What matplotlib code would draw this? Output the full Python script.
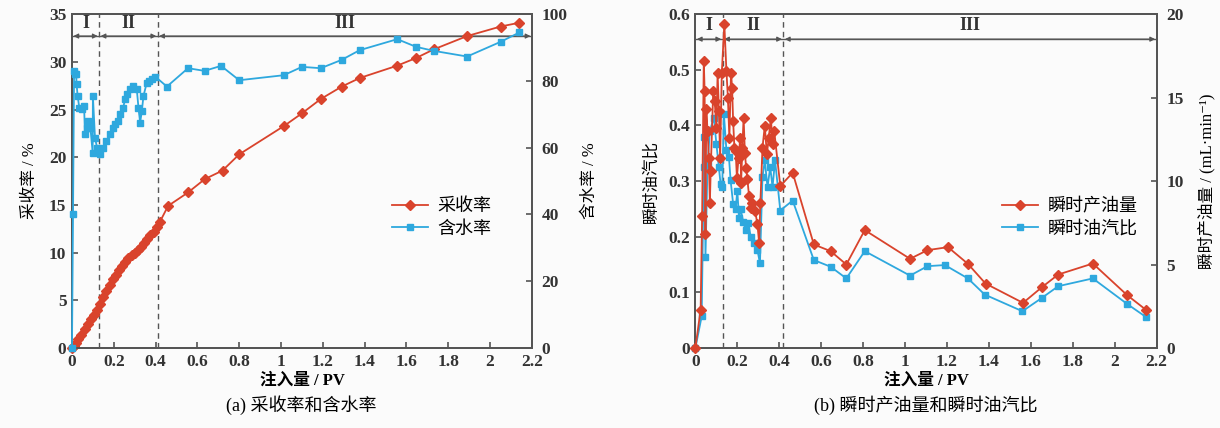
import numpy as np
import matplotlib.pyplot as plt
from matplotlib.ticker import FuncFormatter

plt.rcParams['font.family'] = ['Liberation Serif', 'Noto Sans CJK SC', 'DejaVu Serif']
plt.rcParams['axes.unicode_minus'] = False

RED = '#d9432c'
BLUE = '#2ea8de'
AXC = '#555555'

# (a) recovery (left axis, %) and water cut (right axis, %)
rec_x = [0, 0.01, 0.02, 0.03, 0.045, 0.06, 0.075, 0.09, 0.105, 0.12, 0.135, 0.15,
         0.165, 0.18, 0.195, 0.21, 0.225, 0.24, 0.255, 0.27, 0.285, 0.30, 0.315,
         0.33, 0.345, 0.36, 0.375, 0.39, 0.405, 0.42, 0.46, 0.555, 0.635, 0.72,
         0.80, 1.016, 1.10, 1.19, 1.29, 1.376, 1.556, 1.646, 1.73, 1.89, 2.05, 2.14]
rec_y = [0, 0.2, 0.5, 0.9, 1.4, 2.0, 2.5, 3.0, 3.5, 4.0, 4.6, 5.3,
         6.0, 6.6, 7.2, 7.7, 8.2, 8.6, 9.0, 9.4, 9.7, 10.0, 10.3,
         10.6, 11.0, 11.4, 11.8, 12.2, 12.7, 13.2, 14.9, 16.3, 17.7, 18.6,
         20.3, 23.3, 24.6, 26.1, 27.4, 28.3, 29.6, 30.4, 31.3, 32.7, 33.7, 34.1]

wc_x = [0, 0.005, 0.01, 0.015, 0.02, 0.022, 0.027, 0.035, 0.046, 0.058, 0.062, 0.07,
        0.077, 0.088, 0.099, 0.10, 0.11, 0.12, 0.134, 0.15, 0.165, 0.18, 0.195,
        0.206, 0.22, 0.23, 0.245, 0.254, 0.265, 0.278, 0.294, 0.31, 0.318, 0.326,
        0.334, 0.342, 0.358, 0.37, 0.382, 0.398, 0.454, 0.555, 0.634, 0.713, 0.80,
        1.013, 1.10, 1.19, 1.29, 1.376, 1.556, 1.646, 1.73, 1.89, 2.05, 2.14]
wc_y = [0, 40, 83, 82, 82, 79, 75.5, 72, 71.5, 72.4, 64, 66,
        68, 66, 58.5, 75.5, 63, 60, 58, 60, 62, 64, 66,
        67, 68, 70, 72, 74.5, 76, 77.5, 78.4, 77.5, 72, 67.5,
        70.9, 75.5, 79.5, 80, 80.5, 81.3, 78.3, 83.8, 83, 84.5, 80.2,
        81.7, 84.2, 83.8, 86.3, 89.2, 92.5, 90.2, 89, 87.3, 91.7, 94.5]

# (b) oil rate (right axis, mL/min) and oil-steam ratio (left axis)
oil_x = [0, 0.025, 0.032, 0.04, 0.044, 0.048, 0.052, 0.058, 0.064, 0.069, 0.073,
         0.085, 0.092, 0.10, 0.106, 0.112, 0.118, 0.126, 0.138, 0.148, 0.155,
         0.162, 0.17, 0.175, 0.18, 0.186, 0.192, 0.198, 0.206, 0.214, 0.218,
         0.224, 0.23, 0.236, 0.242, 0.248, 0.256, 0.264, 0.272, 0.285, 0.296,
         0.304, 0.31, 0.32, 0.331, 0.341, 0.35, 0.36, 0.368, 0.376, 0.405,
         0.464, 0.565, 0.645, 0.72, 0.808, 1.024, 1.107, 1.205, 1.30, 1.384,
         1.563, 1.653, 1.731, 1.896, 2.06, 2.152]
oil_y = [0, 2.3, 7.9, 17.2, 15.4, 6.8, 14.3, 13.0, 11.4, 8.7, 10.6,
         15.4, 14.8, 13.2, 16.5, 14.2, 11.4, 16.5, 19.4, 16.6, 15.0,
         12.6, 16.5, 15.6, 13.6, 12.0, 11.8, 10.2, 11.4, 12.6, 9.9,
         12.0, 13.8, 11.7, 10.8, 10.1, 9.1, 8.4, 8.7, 8.2, 7.4,
         6.3, 8.7, 12.0, 13.3, 11.6, 12.6, 13.8, 12.2, 13.0, 9.7,
         10.5, 6.2, 5.8, 5.0, 7.06, 5.34, 5.86, 6.04, 5.04, 3.86,
         2.70, 3.64, 4.40, 5.06, 3.16, 2.26]

osr_x = [0, 0.03, 0.04, 0.043, 0.048, 0.058, 0.069, 0.088, 0.10, 0.112, 0.12,
         0.128, 0.136, 0.148, 0.16, 0.168, 0.18, 0.192, 0.20, 0.208, 0.216,
         0.228, 0.24, 0.252, 0.264, 0.28, 0.296, 0.308, 0.32, 0.331, 0.344,
         0.357, 0.368, 0.38, 0.405, 0.464, 0.565, 0.645, 0.72, 0.808, 1.024,
         1.107, 1.19, 1.30, 1.38, 1.56, 1.653, 1.731, 1.896, 2.06, 2.152]
osr_y = [0, 0.057, 0.325, 0.379, 0.164, 0.331, 0.39, 0.414, 0.367, 0.325, 0.295,
         0.289, 0.42, 0.355, 0.343, 0.301, 0.259, 0.25, 0.283, 0.233, 0.25,
         0.226, 0.212, 0.224, 0.2, 0.188, 0.176, 0.152, 0.307, 0.337, 0.289,
         0.325, 0.289, 0.337, 0.247, 0.265, 0.158, 0.146, 0.125, 0.174, 0.130,
         0.147, 0.149, 0.125, 0.096, 0.066, 0.090, 0.111, 0.125, 0.079, 0.055]

stage_a = [0, 0.13, 0.41, 2.2]
stage_b = [0, 0.13, 0.42, 2.2]
stage_names = ['I', 'II', 'III']

fig = plt.figure(figsize=(12.2, 4.28), dpi=100)
fig.patch.set_facecolor('#fbfbfb')

ax1 = fig.add_axes([0.059, 0.187, 0.377, 0.780])
ax2 = fig.add_axes([0.570, 0.187, 0.378, 0.780])


def fmt(v, pos):
    return '%g' % round(v, 3)


def style(ax, pad=4):
    ax.set_facecolor('none')
    for sp in ax.spines.values():
        sp.set_color(AXC)
        sp.set_linewidth(1.4)
    ax.tick_params(direction='in', length=4, width=1.2, color=AXC, labelsize=12.5,
                   pad=pad, labelcolor='#333333')
    for lab in ax.get_xticklabels() + ax.get_yticklabels():
        lab.set_fontweight('bold')


def stages(ax, bounds, yline, ytext):
    ax.axhline(yline, color=AXC, lw=1.0, zorder=1)
    for b in bounds[1:-1]:
        ax.axvline(b, color=AXC, lw=1.0, ls=(0, (4, 3)), zorder=1)
    for i, name in enumerate(stage_names):
        a, b = bounds[i], bounds[i + 1]
        ax.annotate('', xy=(a, yline), xytext=(b, yline),
                    arrowprops=dict(arrowstyle='<|-|>', color=AXC, lw=0.9,
                                    shrinkA=1, shrinkB=1, mutation_scale=7))
        ax.text((a + b) / 2, ytext, name, ha='center', va='center', fontsize=13,
                fontweight='bold', color='#333333')


# ---- panel (a)
ax1.set_xlim(0, 2.2)
ax1.set_ylim(0, 35)
ax1.set_xticks(np.arange(0, 2.21, 0.2))
ax1.set_yticks(range(0, 36, 5))
ax1.xaxis.set_major_formatter(FuncFormatter(fmt))
style(ax1)
stages(ax1, stage_a, 32.7, 34.0)
ax1t = ax1.twinx()
ax1t.set_ylim(0, 100)
ax1t.set_yticks(range(0, 101, 20))
style(ax1t, pad=7)
l1, = ax1.plot(rec_x, rec_y, color=RED, marker='D', ms=5, lw=1.3, clip_on=False,
               zorder=4)
l2, = ax1t.plot(wc_x, wc_y, color=BLUE, marker='s', ms=4.5, lw=1.3, clip_on=False,
                zorder=3)
ax1t.legend([l1, l2], ['采收率', '含水率'], loc='center left',
            bbox_to_anchor=(0.66, 0.39), frameon=False, fontsize=13,
            handlelength=2.0, handletextpad=0.5, labelspacing=0.3)
ax1.set_xlabel('注入量 / PV', fontsize=12, fontweight='bold', labelpad=2)
ax1.set_ylabel('采收率 / %', fontsize=12, labelpad=8)
ax1t.set_ylabel('含水率 / %', fontsize=12, labelpad=10)
fig.text(0.247, 0.04, '(a) 采收率和含水率', ha='center', fontsize=13)

# ---- panel (b)
ax2.set_xlim(0, 2.2)
ax2.set_ylim(0, 0.6)
ax2.set_xticks(np.arange(0, 2.21, 0.2))
ax2.set_yticks(np.arange(0, 0.61, 0.1))
ax2.xaxis.set_major_formatter(FuncFormatter(fmt))
ax2.yaxis.set_major_formatter(FuncFormatter(fmt))
style(ax2)
stages(ax2, stage_b, 0.555, 0.58)
ax2t = ax2.twinx()
ax2t.set_ylim(0, 20)
ax2t.set_yticks(range(0, 21, 5))
style(ax2t, pad=7)
l3, = ax2t.plot(oil_x, oil_y, color=RED, marker='D', ms=5, lw=1.3, clip_on=False,
                zorder=4)
l4, = ax2.plot(osr_x, osr_y, color=BLUE, marker='s', ms=4.5, lw=1.3, clip_on=False,
               zorder=3)
ax2t.legend([l3, l4], ['瞬时产油量', '瞬时油汽比'], loc='center left',
            bbox_to_anchor=(0.63, 0.39), frameon=False, fontsize=13,
            handlelength=2.0, handletextpad=0.5, labelspacing=0.3)
ax2.set_xlabel('注入量 / PV', fontsize=12, fontweight='bold', labelpad=2)
ax2.set_ylabel('瞬时油汽比', fontsize=12, labelpad=6)
ax2t.set_ylabel('瞬时产油量 / (mL·min⁻¹)', fontsize=12, labelpad=10)
fig.text(0.759, 0.04, '(b) 瞬时产油量和瞬时油汽比', ha='center', fontsize=13)

fig.savefig('out.png', dpi=100, facecolor=fig.get_facecolor())
